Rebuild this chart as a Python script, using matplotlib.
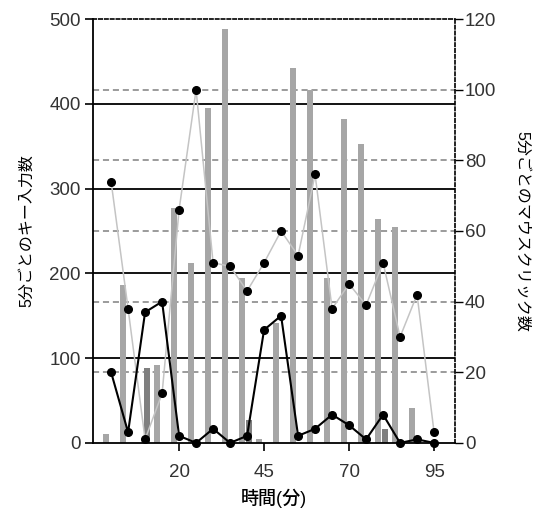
import matplotlib
matplotlib.use('Agg')
import numpy as np
from matplotlib import pyplot as plt

plt.rcParams['font.family'] = ['Liberation Sans', 'Noto Sans CJK JP']

# 5分ごとの時刻(分)
minutes = [0, 5, 10, 15, 20, 25, 30, 35, 40, 45, 50, 55, 60, 65, 70, 75, 80, 85, 90, 95]

# キー入力数 (左軸)
keys_a = [10, 186, 0, 92, 277, 212, 395, 488, 194, 5, 141, 442, 416, 194, 382, 353, 264, 255, 41, 0]
keys_b = [0, 0, 88, 0, 0, 0, 0, 0, 27, 0, 0, 0, 0, 0, 0, 0, 16, 0, 0, 0]

# マウスクリック数 (右軸)
clicks_a = [74, 38, 1, 14, 66, 100, 51, 50, 43, 51, 60, 53, 76, 38, 45, 39, 51, 30, 42, 3]
clicks_b = [20, 3, 37, 40, 2, 0, 4, 0, 2, 32, 36, 2, 4, 8, 5, 1, 8, 0, 1, 0]

x_ticks = [20, 45, 70, 95]
left_ticks = [0, 100, 200, 300, 400, 500]
right_ticks = [0, 20, 40, 60, 80, 100, 120]

fig = plt.figure(figsize=(5.38, 5.15), dpi=100)
ax = fig.add_axes([0.173, 0.140, 0.673, 0.823])
ax2 = ax.twinx()

x = np.array(minutes)
ax.bar(x - 1.5, keys_a, width=1.9, color='#a6a6a6', zorder=2)
ax.bar(x + 0.6, keys_b, width=1.9, color='#7f7f7f', zorder=2)

# grid lines behind the bars
for v in left_ticks[1:-1]:
    ax.axhline(v, color='black', lw=1.3, zorder=1)
for v in right_ticks[1:-1]:
    ax.axhline(v * 500 / 120, color='#808080', lw=1.1, ls=(0, (4, 2.5)), zorder=1)

ax2.plot(minutes, clicks_a, color='#c4c4c4', lw=1.1, marker='o', ms=5.5,
         mfc='black', mec='black', zorder=3, clip_on=False)
ax2.plot(minutes, clicks_b, color='black', lw=1.5, marker='o', ms=5.5,
         mfc='black', mec='black', zorder=4, clip_on=False)

ax.set_xlim(-5.3, 101.2)
ax.set_ylim(0, 500)
ax2.set_ylim(0, 120)
ax.set_xticks(x_ticks)
ax.set_yticks(left_ticks)
ax2.set_yticks(right_ticks)

for s in ['top', 'right']:
    ax.spines[s].set_visible(False)
for s in ['left', 'bottom']:
    ax2.spines[s].set_visible(False)
ax.spines['left'].set_linewidth(1.3)
ax.spines['bottom'].set_linewidth(1.3)
ax2.spines['top'].set_linestyle((0, (2, 1.5)))
ax2.spines['right'].set_linestyle((0, (2, 1.5)))
ax2.spines['top'].set_linewidth(1.2)
ax2.spines['right'].set_linewidth(1.2)

ax.tick_params(axis='y', length=6, width=1.2, pad=3, labelsize=13.5, labelcolor='#333333')
ax.tick_params(axis='x', length=6, width=1.2, pad=9, labelsize=13.5, labelcolor='#333333')
ax2.tick_params(axis='y', length=6, width=1.0, pad=1, labelsize=13.5, labelcolor='#333333')

ax.set_ylabel('5分ごとのキー入力数', fontsize=11.5, labelpad=11)
ax2.set_ylabel('5分ごとのマウスクリック数', fontsize=11.5, rotation=270, labelpad=24)
ax.set_xlabel('時間(分)', fontsize=13, fontweight='medium', labelpad=6)

fig.savefig('out.png', dpi=100)
